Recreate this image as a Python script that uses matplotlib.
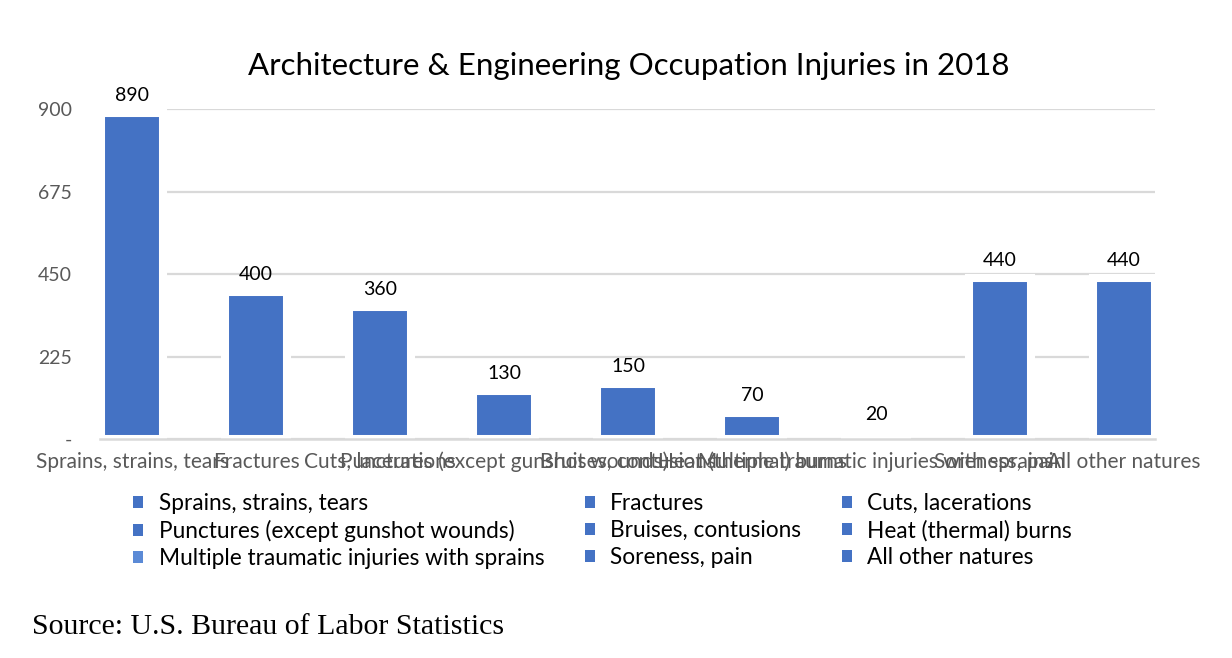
import matplotlib
matplotlib.use("Agg")
import matplotlib.pyplot as plt
from matplotlib.patches import Patch

# data
categories = [
    "Sprains, strains, tears",
    "Fractures",
    "Cuts, lacerations",
    "Punctures (except gunshot wounds)",
    "Bruises, contusions",
    "Heat (thermal) burns",
    "Multiple traumatic injuries with sprains",
    "Soreness, pain",
    "All other natures",
]
injuries = [890, 400, 360, 130, 150, 70, 20, 440, 440]
y_ticks = [0, 225, 450, 675, 900]
y_tick_labels = ["-", "225", "450", "675", "900"]

BLUE = "#4472C4"
LIGHT_BLUE = "#5B8AD6"
GRID = "#D9D9D9"
GRAY_TXT = "#595959"
FONT = "Lato"

plt.rcParams["font.family"] = [FONT, "DejaVu Sans"]

colors = [BLUE] * len(categories)
colors[6] = LIGHT_BLUE

fig = plt.figure(figsize=(12.32, 6.58), dpi=100)
ax = fig.add_axes([0.0812, 0.3328, 0.8563, 0.5015])

x = list(range(len(categories)))
# thick white outline, like the Excel export (hides the tiny bar)
bars = ax.bar(x, injuries, width=0.5, color=colors, edgecolor="white",
              linewidth=5.8, zorder=3)

for xi, v in zip(x, injuries):
    ax.annotate(f"{v}", (xi, v), xytext=(0, 12.5), textcoords="offset points",
                ha="center", va="center", fontsize=14, color="black")

ax.set_xlim(-0.258, 8.25)
ax.set_ylim(0, 900)
ax.set_yticks(y_ticks)
ax.set_yticklabels(y_tick_labels, fontsize=14, color=GRAY_TXT)
ax.set_xticks(x)
ax.set_xticklabels(categories, fontsize=15, color=GRAY_TXT)
ax.tick_params(axis="both", length=0, pad=9)
ax.tick_params(axis="y", pad=20)
ax.yaxis.grid(True, color=GRID, linewidth=1.6, zorder=0)
ax.set_axisbelow(True)
for side in ["top", "right", "left"]:
    ax.spines[side].set_visible(False)
ax.spines["bottom"].set_color(GRID)
ax.spines["bottom"].set_linewidth(1.8)
ax.spines["bottom"].set_zorder(4)

fig.text(0.51, 0.9, "Architecture & Engineering Occupation Injuries in 2018",
         ha="center", va="center", fontsize=22.5, color="black")

# legend fills row by row in the reference, matplotlib fills columns
handles = [Patch(facecolor=c, edgecolor="none") for c in colors]
order = [0, 3, 6, 1, 4, 7, 2, 5, 8]
leg = fig.legend([handles[i] for i in order], [categories[i] for i in order],
                 ncol=3, loc="upper left", bbox_to_anchor=(0.099, 0.268),
                 frameon=False, fontsize=16.3, handlelength=0.42,
                 handleheight=0.42, handletextpad=0.7, columnspacing=1.8,
                 labelspacing=0.26, borderpad=0)

fig.text(0.026, 0.047, "Source: U.S. Bureau of Labor Statistics",
         ha="left", va="center", fontsize=21.5, color="black",
         family="Liberation Serif")

fig.savefig("out.png", dpi=100)
